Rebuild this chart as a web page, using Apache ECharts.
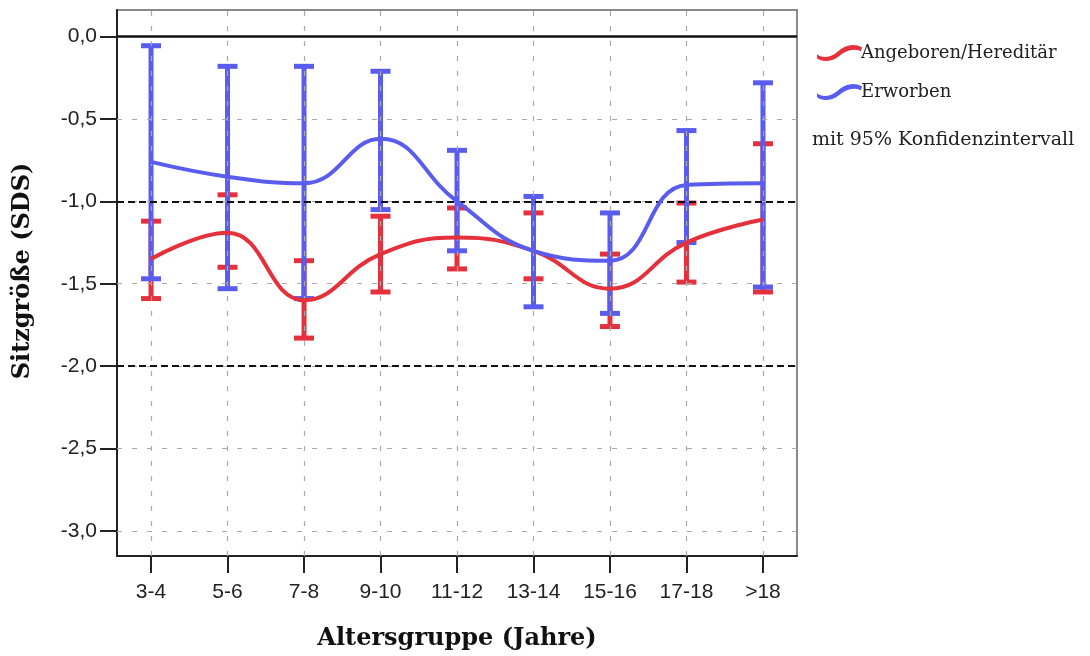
<!DOCTYPE html>
<html>
<head>
<meta charset="utf-8">
<script src="https://cdn.jsdelivr.net/npm/echarts@6/dist/echarts.min.js"></script>
<style>
html,body{margin:0;padding:0;background:#fff;}
#chart{width:1090px;height:656px;}
</style>
</head>
<body>
<div id="chart"></div>
<script>
// ---- data ----
var categories = ['3-4','5-6','7-8','9-10','11-12','13-14','15-16','17-18','>18'];
var yTicks = [0, -0.5, -1, -1.5, -2, -2.5, -3];
var yTickLabels = ['0,0','-0,5','-1,0','-1,5','-2,0','-2,5','-3,0'];
// Angeboren/Hereditär
var redMean  = [-1.35, -1.19, -1.60, -1.32, -1.22, -1.30, -1.53, -1.25, -1.11];
var redLower = [-1.59, -1.40, -1.83, -1.55, -1.41, -1.47, -1.76, -1.49, -1.55];
var redUpper = [-1.12, -0.96, -1.36, -1.09, -1.04, -1.07, -1.32, -1.01, -0.65];
// Erworben
var blueMean  = [-0.76, -0.85, -0.89, -0.62, -1.00, -1.30, -1.36, -0.90, -0.89];
var blueLower = [-1.47, -1.53, -1.59, -1.05, -1.30, -1.64, -1.68, -1.25, -1.52];
var blueUpper = [-0.055, -0.18, -0.18, -0.21, -0.69, -0.97, -1.07, -0.57, -0.28];
var refSolid = [0];
var refDashed = [-1, -2];
var seriesNames = ['Angeboren/Hereditär', 'Erworben'];
var noteText = 'mit 95% Konfidenzintervall';
var xName = 'Altersgruppe (Jahre)';
var yName = 'Sitzgröße (SDS)';

var RED = '#E5313B', BLUE = '#5A5CEE';
var SERIF = '"DejaVu Serif","Liberation Serif",serif';
var SANS = '"Liberation Sans",Arial,sans-serif';
var idx = categories.map(function(c,i){return i;});

function pts(arr){ return arr.map(function(v,i){return [i, v];}); }
function errData(lo, hi){ return lo.map(function(v,i){return [i, v, hi[i]];}); }
function errRender(color){
  return function(params, api){
    var x = api.value(0);
    var a = api.coord([x, api.value(1)]);
    var b = api.coord([x, api.value(2)]);
    var hw = 10, st = {stroke: color, lineWidth: 5};
    return {type:'group', children:[
      {type:'line', shape:{x1:a[0],y1:a[1],x2:b[0],y2:b[1]}, style:st},
      {type:'line', shape:{x1:a[0]-hw,y1:a[1],x2:a[0]+hw,y2:a[1]}, style:st},
      {type:'line', shape:{x1:b[0]-hw,y1:b[1],x2:b[0]+hw,y2:b[1]}, style:st}
    ]};
  };
}
var wave = 'path://M0,12 C5,16 12,16 20,10 C28,3 36,1 45,5 L44,9 C36,6 29,8 22,14 C14,20 5,20 0,16 Z';

var chart = echarts.init(document.getElementById('chart'));
chart.setOption({
  animation: false,
  backgroundColor: '#fff',
  grid: {left: 117, right: 293, top: 10, bottom: 99, show: true, borderColor: '#8a8a8a', borderWidth: 2, backgroundColor: '#fff'},
  legend: {
    data: seriesNames.map(function(n){return {name:n, icon: wave};}),
    orient: 'vertical', left: 812, top: 39, itemWidth: 45, itemHeight: 20, itemGap: 21,
    textStyle: {fontFamily: SERIF, fontSize: 18, color: '#222', padding: [0,0,0,-6]},
    selectedMode: false
  },
  graphic: [{type:'text', left: 812, top: 131, style:{text: noteText, font: '19px ' + SERIF, fill: '#222'}}],
  xAxis: {
    type: 'value', min: -0.445, max: 8.445,
    name: xName, nameLocation: 'middle', nameGap: 71,
    nameTextStyle: {fontFamily: SERIF, fontSize: 24, fontWeight: 'bold', color: '#111'},
    axisLine: {show: true, onZero: false, lineStyle: {color: '#222', width: 2}},
    axisTick: {show: true, customValues: idx, length: 17, lineStyle: {color: '#222', width: 2}},
    axisLabel: {customValues: idx, formatter: function(v){return categories[Math.round(v)];}, fontFamily: SANS, fontSize: 21, color: '#222', margin: 26},
    splitLine: {show: false}
  },
  yAxis: {
    type: 'value', min: -3.153, max: 0.162,
    name: yName, nameLocation: 'middle', nameGap: 82,
    nameTextStyle: {fontFamily: SERIF, fontSize: 24, fontWeight: 'bold', color: '#111', padding: [0,0,0,24]},
    axisLine: {show: true, onZero: false, lineStyle: {color: '#222', width: 2}},
    axisTick: {show: true, customValues: yTicks, length: 17, lineStyle: {color: '#222', width: 2}},
    axisLabel: {customValues: yTicks, formatter: function(v){var i = yTicks.indexOf(v); return i >= 0 ? yTickLabels[i] : '';}, fontFamily: SANS, fontSize: 21, color: '#222', margin: 20},
    splitLine: {show: false}
  },
  series: [
    {type:'line', name:'grid', data: [], silent: true, z: 1,
     markLine: {silent: true, symbol: 'none', label: {show: false}, animation: false,
       lineStyle: {color: '#aaa', type: [5, 10], width: 1.2},
       data: yTicks.map(function(v){return {yAxis: v};}).concat(idx.map(function(i){return {xAxis: i};}))}},
    {type:'line', name:'ref', data: [], silent: true, z: 2,
     markLine: {silent: true, symbol: 'none', label: {show: false}, animation: false,
       data: refSolid.map(function(v){return {yAxis: v, lineStyle:{color:'#111', type:'solid', width: 2.5}};})
         .concat(refDashed.map(function(v){return {yAxis: v, lineStyle:{color:'#111', type:[7,4], width: 1.8}};}))}},
    {type:'custom', name:'redErr', renderItem: errRender(RED), data: errData(redLower, redUpper), z: 3, encode:{x:0, y:[1,2]}},
    {type:'custom', name:'blueErr', renderItem: errRender(BLUE), data: errData(blueLower, blueUpper), z: 4, encode:{x:0, y:[1,2]}},
    {type:'line', name: seriesNames[0], data: pts(redMean), smooth: 0.45, showSymbol: false, symbol: 'none', lineStyle: {color: RED, width: 4}, itemStyle: {color: RED}, z: 5},
    {type:'line', name: seriesNames[1], data: pts(blueMean), smooth: 0.45, showSymbol: false, symbol: 'none', lineStyle: {color: BLUE, width: 4}, itemStyle: {color: BLUE}, z: 6}
  ]
});
</script>
</body>
</html>
